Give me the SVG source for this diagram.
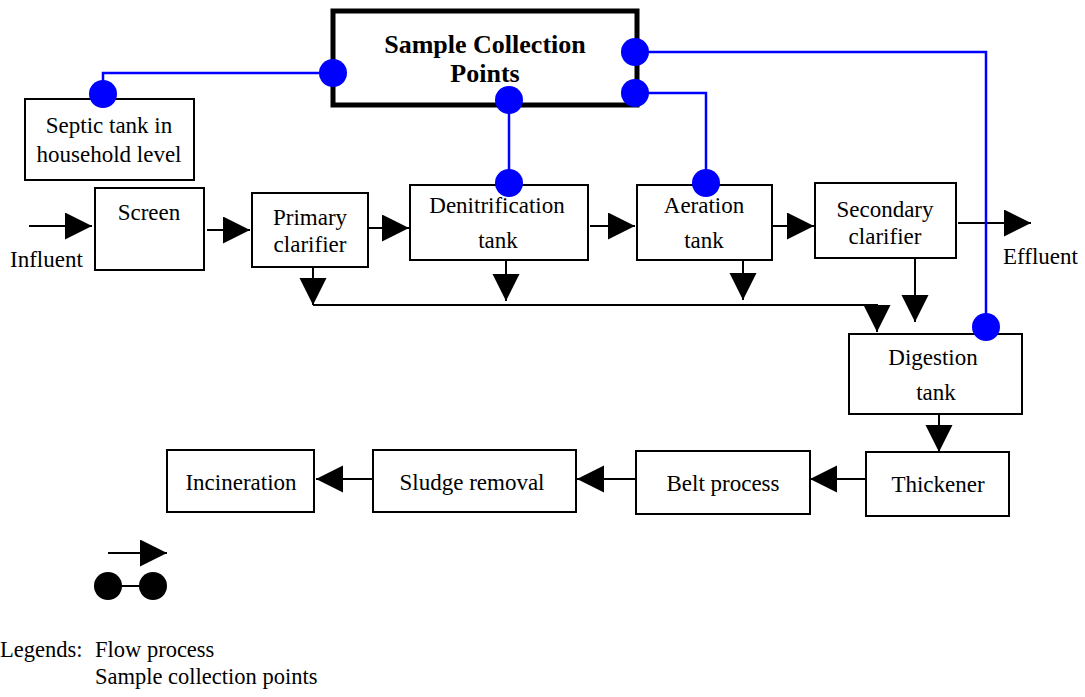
<svg xmlns="http://www.w3.org/2000/svg" width="1085" height="697" viewBox="0 0 1085 697">
<defs>
<marker id="ah" markerUnits="userSpaceOnUse" markerWidth="28" markerHeight="28" refX="27" refY="13.5" orient="auto">
<path d="M0,0 L27,13.5 L0,27 z" fill="#000"/>
</marker>
<style>
.box{fill:#fff;stroke:#000;stroke-width:2}
.main{fill:#fff;stroke:#000;stroke-width:5}
.t{font-family:"Liberation Serif","Times New Roman",serif;font-size:23px;fill:#000;text-anchor:middle}
.tb{font-family:"Liberation Serif","Times New Roman",serif;font-size:26px;font-weight:bold;fill:#000;text-anchor:middle}
.lg{font-family:"Liberation Serif","Times New Roman",serif;font-size:22.5px;fill:#000}
.flow{fill:none;stroke:#000;stroke-width:2;marker-end:url(#ah)}
.blue{fill:none;stroke:#0000ff;stroke-width:2.5}
.dot{fill:#0000ff}
</style>
</defs>
<rect width="1085" height="697" fill="#fff"/>

<g id="connectors">
<path class="flow" d="M29,226 H92"/>
<path class="flow" d="M207,230 H250"/>
<path class="flow" d="M368,228 H409"/>
<path class="flow" d="M590,226 H635"/>
<path class="flow" d="M772,226 H814"/>
<path class="flow" d="M958,223 H1031"/>
<path class="flow" d="M313,267 V305"/>
<path class="flow" d="M506,260 V301"/>
<path class="flow" d="M743,260 V300"/>
<path class="flow" d="M313,305 H877 V332"/>
<path class="flow" d="M915,258 V322"/>
<path class="flow" d="M939,414 V452"/>
<path class="flow" d="M866,479 H810"/>
<path class="flow" d="M636,479 H577"/>
<path class="flow" d="M373,479 H316"/>
<path class="blue" d="M103,94 V73 H333"/>
<path class="blue" d="M509,100 V183"/>
<path class="blue" d="M635,93 H706 V183"/>
<path class="blue" d="M635,52 H986 V327"/>
</g>

<g id="sample-collection-points">
<rect class="main" x="333" y="11" width="304" height="94"/>
<text class="tb" x="485" y="53">Sample Collection</text>
<text class="tb" x="485" y="82">Points</text>
</g>

<g id="septic-tank">
<rect class="box" x="25" y="99" width="169" height="81"/>
<text class="t" x="109" y="133">Septic tank in</text>
<text class="t" x="109" y="162">household level</text>
</g>

<g id="screen">
<rect class="box" x="95" y="188" width="109" height="82"/>
<text class="t" x="149" y="220">Screen</text>
</g>

<g id="primary-clarifier">
<rect class="box" x="252" y="193" width="116" height="74"/>
<text class="t" x="310" y="225">Primary</text>
<text class="t" x="310" y="252">clarifier</text>
</g>

<g id="denitrification-tank">
<rect class="box" x="410" y="185" width="178" height="75"/>
<text class="t" x="497" y="213">Denitrification</text>
<text class="t" x="498" y="248">tank</text>
</g>

<g id="aeration-tank">
<rect class="box" x="637" y="185" width="135" height="75"/>
<text class="t" x="704" y="213">Aeration</text>
<text class="t" x="704" y="248">tank</text>
</g>

<g id="secondary-clarifier">
<rect class="box" x="815" y="183" width="141" height="75"/>
<text class="t" x="885" y="217">Secondary</text>
<text class="t" x="885" y="244">clarifier</text>
</g>

<g id="digestion-tank">
<rect class="box" x="849" y="334" width="173" height="80"/>
<text class="t" x="933" y="365">Digestion</text>
<text class="t" x="936" y="400">tank</text>
</g>

<g id="thickener">
<rect class="box" x="866" y="452" width="143" height="64"/>
<text class="t" x="938" y="492">Thickener</text>
</g>

<g id="belt-process">
<rect class="box" x="636" y="451" width="174" height="63"/>
<text class="t" x="723" y="491">Belt process</text>
</g>

<g id="sludge-removal">
<rect class="box" x="373" y="450" width="203" height="62"/>
<text class="t" x="472" y="490">Sludge removal</text>
</g>

<g id="incineration">
<rect class="box" x="167" y="450" width="147" height="62"/>
<text class="t" x="241" y="490">Incineration</text>
</g>

<g id="labels">
<text class="t" x="10" y="267" style="text-anchor:start">Influent</text>
<text class="t" x="1003" y="264" style="text-anchor:start">Effluent</text>
</g>

<g id="sample-dots">
<circle class="dot" cx="333" cy="73" r="14"/>
<circle class="dot" cx="103" cy="94" r="14"/>
<circle class="dot" cx="509" cy="100" r="14"/>
<circle class="dot" cx="509" cy="183" r="14"/>
<circle class="dot" cx="635" cy="52" r="14"/>
<circle class="dot" cx="635" cy="93" r="14"/>
<circle class="dot" cx="706" cy="183" r="14"/>
<circle class="dot" cx="986" cy="327" r="14"/>
</g>

<g id="legend">
<path class="flow" d="M108,553 H167"/>
<line x1="108" y1="586" x2="153" y2="586" stroke="#000" stroke-width="2"/>
<circle cx="108" cy="586" r="14" fill="#000"/>
<circle cx="153" cy="586" r="14" fill="#000"/>
<text class="lg" x="0" y="657">Legends:</text>
<text class="lg" x="95" y="657">Flow process</text>
<text class="lg" x="95" y="684">Sample collection points</text>
</g>
</svg>
